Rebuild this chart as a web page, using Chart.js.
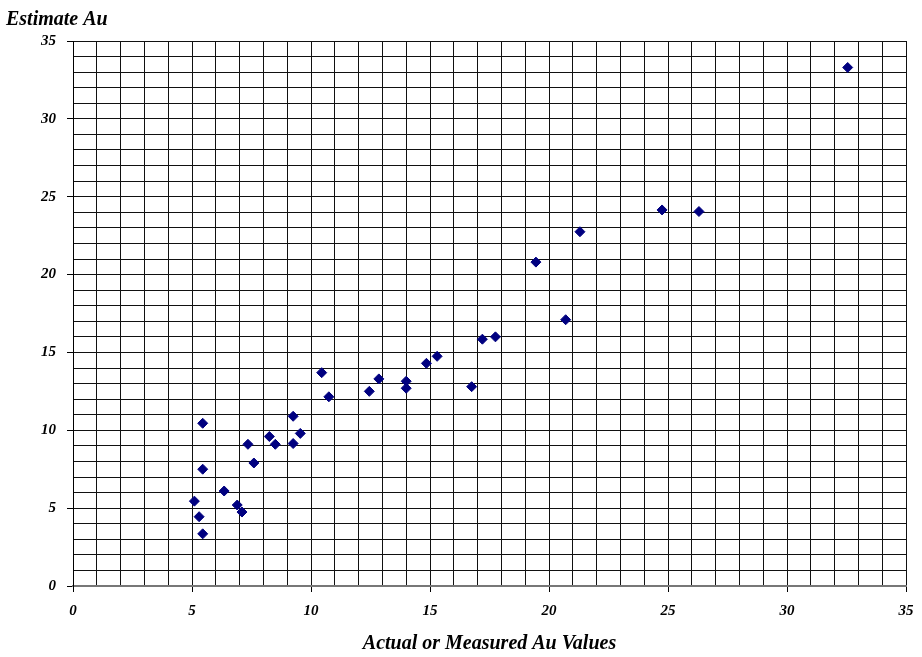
<!DOCTYPE html>
<html>
<head>
<meta charset="utf-8">
<script src="https://cdn.jsdelivr.net/npm/chart.js@4.4.1/dist/chart.umd.min.js"></script>
<style>
  html, body { margin: 0; padding: 0; background: #fff; }
  #wrap { width: 922px; height: 657px; position: relative; }
</style>
</head>
<body>
<div id="wrap"><canvas id="c" width="922" height="657"></canvas></div>
<script>
// Actual (measured) Au values
const actualAu = [5.1, 5.3, 5.45, 5.45, 5.45, 6.35, 6.9, 7.1, 7.35, 7.6, 8.25, 8.5,
  9.25, 9.25, 9.55, 10.45, 10.75, 12.45, 12.85, 14.0, 14.0, 14.85, 15.3, 16.75,
  17.2, 17.75, 19.45, 20.7, 21.3, 24.75, 26.3, 32.55];
// Estimated Au values
const estimateAu = [5.45, 4.45, 3.35, 7.5, 10.45, 6.1, 5.2, 4.75, 9.1, 7.9, 9.6, 9.1,
  10.9, 9.15, 9.8, 13.7, 12.15, 12.5, 13.3, 13.15, 12.7, 14.3, 14.75, 12.8,
  15.85, 16.0, 20.8, 17.1, 22.75, 24.15, 24.05, 33.3];

const axisMin = 0, axisMax = 35, gridStep = 1, labelStep = 5;
const xTitle = 'Actual or Measured Au Values';
const yTitle = 'Estimate Au';

const points = actualAu.map((x, i) => ({ x: x, y: estimateAu[i] }));
const tickFont = { family: '"Liberation Serif", "Times New Roman", serif', size: 15, style: 'italic', weight: 'bold' };
const titleFont = { family: '"Liberation Serif", "Times New Roman", serif', size: 20, style: 'italic', weight: 'bold' };

const isMajor = v => Math.abs(v % labelStep) < 1e-9;

new Chart(document.getElementById('c'), {
  type: 'scatter',
  data: {
    datasets: [{
      data: points,
      pointStyle: 'rectRot',
      pointRadius: 5,
      pointHoverRadius: 5,
      backgroundColor: '#000080',
      borderColor: '#000080',
      borderWidth: 1
    }]
  },
  options: {
    responsive: false,
    animation: false,
    layout: { padding: { left: 6, right: 16, top: 0, bottom: 0 } },
    plugins: {
      legend: { display: false },
      tooltip: { enabled: false },
      title: {
        display: true,
        text: yTitle,
        align: 'start',
        color: '#000',
        font: titleFont,
        padding: { top: 8, bottom: 9 }
      }
    },
    scales: {
      x: {
        type: 'linear',
        min: axisMin, max: axisMax,
        afterFit: s => { s.height = 71; s.paddingLeft = 0; s.paddingRight = 0; },
        ticks: {
          stepSize: gridStep,
          autoSkip: false,
          maxRotation: 0,
          color: '#000',
          font: tickFont,
          padding: 10,
          callback: v => isMajor(v) ? String(v) : ''
        },
        grid: {
          color: '#111',
          lineWidth: 1,
          tickLength: 6,
          tickColor: c => isMajor(c.tick.value) ? '#000' : 'rgba(0,0,0,0)'
        },
        border: { color: '#777', width: 2 },
        title: {
          display: true,
          text: xTitle,
          color: '#000',
          font: titleFont,
          padding: { top: 0, bottom: 1 }
        }
      },
      y: {
        type: 'linear',
        min: axisMin, max: axisMax,
        afterFit: s => { s.width = 67; },
        ticks: {
          stepSize: gridStep,
          autoSkip: false,
          color: '#000',
          font: tickFont,
          padding: 11,
          callback: v => isMajor(v) ? String(v) : ''
        },
        grid: {
          color: '#111',
          lineWidth: 1,
          tickLength: 6,
          tickColor: c => isMajor(c.tick.value) ? '#000' : 'rgba(0,0,0,0)'
        },
        border: { color: '#000', width: 1 }
      }
    }
  }
});
</script>
</body>
</html>
